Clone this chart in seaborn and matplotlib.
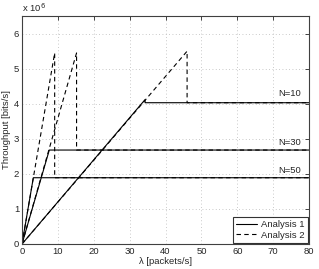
import numpy as np
import pandas as pd
import matplotlib
matplotlib.use('Agg')
import matplotlib.pyplot as plt
import seaborn as sns
from matplotlib.ticker import FuncFormatter

# values
n_labels = ['N=10', 'N=30', 'N=50']

# Analysis 1 (solid)
a1_lam = {
    'N=10': [0, 34.3, 34.3, 80],
    'N=30': [0, 7.6, 80],
    'N=50': [0, 3.15, 80],
}
a1_thr = {
    'N=10': [0, 4.12e6, 4.03e6, 4.03e6],
    'N=30': [0, 2.68e6, 2.68e6],
    'N=50': [0, 1.89e6, 1.89e6],
}

# Analysis 2 (dashed)
a2_lam = {
    'N=10': [0, 46.0, 46.0, 80],
    'N=30': [0, 15.2, 15.2, 80],
    'N=50': [0, 9.1, 9.1, 80],
}
a2_thr = {
    'N=10': [0, 5.5e6, 4.03e6, 4.03e6],
    'N=30': [0, 5.45e6, 2.68e6, 2.68e6],
    'N=50': [0, 5.45e6, 1.89e6, 1.89e6],
}

label_x = [71.3, 71.3, 71.3]
label_y = [4.29e6, 2.89e6, 2.11e6]

sns.set_style('white')
plt.rcParams['font.family'] = ['Liberation Sans', 'DejaVu Sans']
fs = 6.8

fig = plt.figure(figsize=(3.19, 2.69), dpi=100)
ax = fig.add_axes([0.069, 0.093, 0.9, 0.847])

for i, n in enumerate(n_labels):
    sns.lineplot(x=a1_lam[n], y=a1_thr[n], sort=False, estimator=None, color='k',
                 linewidth=0.8, ax=ax, label='Analysis 1' if i == 0 else None)
for i, n in enumerate(n_labels):
    sns.lineplot(x=a2_lam[n], y=a2_thr[n], sort=False, estimator=None, color='k',
                 linewidth=0.8, linestyle=(0, (4, 3)), ax=ax,
                 label='Analysis 2' if i == 0 else None)

for n, lx, ly in zip(n_labels, label_x, label_y):
    ax.text(lx, ly, n, fontsize=fs, va='center', ha='left')

ax.set_xlim(0, 80)
ax.set_ylim(0, 6.5e6)
ax.set_xticks(np.arange(0, 81, 10))
ax.set_yticks(np.arange(0, 6.1e6, 1e6))
ax.yaxis.set_major_formatter(FuncFormatter(lambda v, p: '%d' % round(v / 1e6)))
ax.tick_params(direction='in', length=3, width=0.6, top=True, right=True, labelsize=fs, pad=2)
ax.grid(True, linestyle=(0, (1, 3)), color='#b8b8b8', linewidth=0.6)
for s in ax.spines.values():
    s.set_linewidth(0.8)
    s.set_color('#404040')

ax.set_xlabel('λ [packets/s]', fontsize=fs, labelpad=1)
ax.set_ylabel('Throughput [bits/s]', fontsize=fs, labelpad=2)
ax.text(0.0, 1.01, 'x 10$^6$', transform=ax.transAxes, fontsize=fs, va='bottom', ha='left')

leg = ax.legend(loc='lower right', fontsize=fs, frameon=True, fancybox=False,
                edgecolor='k', handlelength=2.3, handletextpad=0.4, borderpad=0.3,
                labelspacing=0.2, borderaxespad=0.15)
leg.get_frame().set_linewidth(0.8)

fig.savefig('out.png', dpi=100)
